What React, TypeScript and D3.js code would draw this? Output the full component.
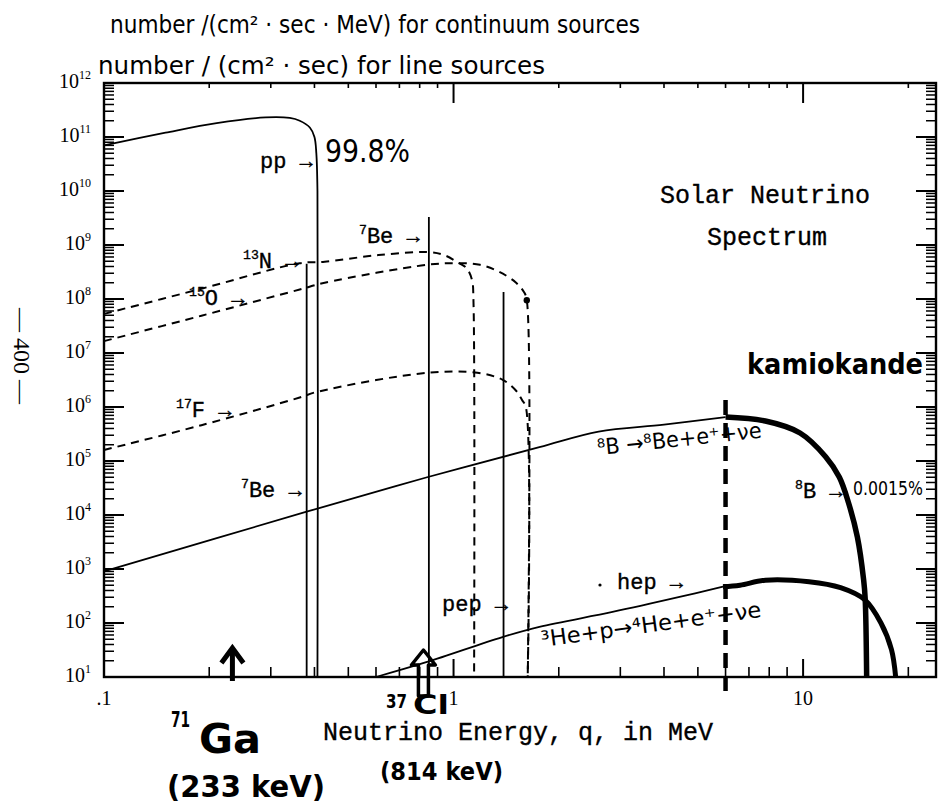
import React, { useEffect, useRef } from 'react';
import * as d3 from 'd3';

type Pt = [number, number];

// continuum sources: [energy (MeV), number / (cm^2 sec MeV)]
const ppSpectrum: Pt[] = [
  [0.1, 7.0e10], [0.15, 1.2e11], [0.21, 1.8e11], [0.29, 2.3e11], [0.34, 2.25e11],
  [0.363, 2.0e11], [0.388, 1.5e11], [0.4, 1.0e11], [0.405, 5e10], [0.408, 1e10], [0.408, 10],
];
const n13Spectrum: Pt[] = [
  [0.1, 5.3e7], [0.19, 1.55e8], [0.363, 4.6e8], [0.428, 4.9e8], [0.61, 6.5e8], [0.84, 7.4e8],
  [0.94, 6.5e8], [1.02, 4.9e8], [1.09, 3.7e8], [1.13, 2.2e8], [1.14, 9.5e7], [1.145, 10],
];
const o15Spectrum: Pt[] = [
  [0.1, 1.66e7], [0.19, 4.9e7], [0.363, 1.5e8], [0.428, 2.0e8], [0.84, 4.3e8], [1.02, 4.6e8],
  [1.19, 4.3e8], [1.35, 3.2e8], [1.51, 2.0e8], [1.59, 1.35e8], [1.62, 9.5e7], [1.63, 10],
];
const f17Spectrum: Pt[] = [
  [0.1, 1.6e5], [0.19, 4.6e5], [0.363, 1.5e6], [0.406, 1.9e6], [0.84, 4.3e6], [1.17, 4.3e6],
  [1.38, 3.2e6], [1.51, 2.0e6], [1.57, 1.35e6], [1.61, 1.0e6], [1.63, 10],
];
const b8Spectrum: Pt[] = [
  [0.1, 9e2], [0.38, 1.15e4], [0.84, 5e4], [1.76, 1.8e5], [2.6, 3.5e5], [4.0, 4.7e5], [6.0, 6.5e5],
];
const b8Detected: Pt[] = [
  [6.0, 6.5e5], [7.8, 5.5e5], [9.8, 3.3e5], [11.6, 1.2e5], [12.7, 5e4], [13.5, 1.65e4],
  [14.3, 3.9e3], [14.9, 630], [15.05, 290], [15.2, 10],
];
const hepSpectrum: Pt[] = [
  [0.6, 10], [0.84, 19], [1.38, 55], [1.76, 85], [2.85, 160], [4.4, 300], [5.9, 470],
];
const hepDetected: Pt[] = [
  [5.9, 470], [6.6, 500], [7.8, 620], [10.4, 580], [12.8, 450], [15.0, 270], [16.7, 100],
  [17.9, 32], [18.4, 10],
];

// line sources: number / (cm^2 sec)
const lineEnergies = [0.38, 0.85, 1.39];
const lineFluxes = [4.5e8, 3.3e9, 1.35e8];

// detector thresholds (MeV)
const kamiokandeThreshold = 6.0;
const galliumThreshold = 0.233;
const chlorineThreshold = 0.82;

const yExponents = [1, 2, 3, 4, 5, 6, 7, 8, 9, 10, 11, 12];
const xLabelValues = [0.1, 1, 10];
const xLabelTexts = ['.1', '1', '10'];

const W = 941;
const H = 806;
const M = { left: 104, right: 936, top: 83, bottom: 677 };

const SERIF = 'Liberation Serif, serif';
const MONO = 'Liberation Mono, DejaVu Sans Mono, monospace';
const HAND = 'DejaVu Sans, sans-serif';

type Part = [string, boolean];

export default function App() {
  const ref = useRef<SVGSVGElement>(null);

  useEffect(() => {
    const svg = d3.select(ref.current);
    svg.selectAll('*').remove();

    const x = d3.scaleLog().domain([0.1, 24]).range([M.left, M.right]);
    const y = d3.scaleLog().domain([10, 1e12]).range([M.bottom, M.top]);

    svg.append('rect').attr('width', W).attr('height', H).attr('fill', '#fff');

    const isMajor = (v: number) => Math.abs(Math.log10(v) - Math.round(Math.log10(v))) < 1e-9;

    // ticks on all four sides
    const ticks = svg.append('g').attr('stroke', '#000');
    const xt = x.ticks().filter(v => v > 0.1);
    ticks.selectAll('line.xb').data(xt).join('line')
      .attr('x1', d => x(d)).attr('x2', d => x(d))
      .attr('y1', M.bottom).attr('y2', d => M.bottom - (isMajor(d) ? 18 : 10))
      .attr('stroke-width', d => (isMajor(d) ? 2 : 1.6));
    ticks.selectAll('line.xt').data(xt).join('line')
      .attr('x1', d => x(d)).attr('x2', d => x(d))
      .attr('y1', M.top).attr('y2', d => M.top + (isMajor(d) ? 20 : 5))
      .attr('stroke-width', d => (isMajor(d) ? 2 : 1.6));

    const yt: number[] = [];
    yExponents.forEach(e => {
      for (let m = 1; m < 10; m++) {
        const v = m * Math.pow(10, e);
        if (v <= 1e12) yt.push(v);
      }
    });
    ticks.selectAll('line.yl').data(yt).join('line')
      .attr('x1', M.left).attr('x2', d => M.left + (isMajor(d) ? 20 : 10))
      .attr('y1', d => y(d)).attr('y2', d => y(d))
      .attr('stroke-width', d => (isMajor(d) ? 2 : 1.5));
    ticks.selectAll('line.yr').data(yt).join('line')
      .attr('x1', M.right).attr('x2', d => M.right - (isMajor(d) ? 20 : 10))
      .attr('y1', d => y(d)).attr('y2', d => y(d))
      .attr('stroke-width', d => (isMajor(d) ? 2 : 1.5));

    svg.append('rect')
      .attr('x', M.left).attr('y', M.top)
      .attr('width', M.right - M.left).attr('height', M.bottom - M.top)
      .attr('fill', 'none').attr('stroke', '#000').attr('stroke-width', 2.4);

    // tick labels
    const yl = svg.append('g').attr('font-family', SERIF).attr('font-size', 20);
    yExponents.forEach(e => {
      const t = yl.append('text').attr('x', 91).attr('y', y(Math.pow(10, e)) + 5).attr('text-anchor', 'end');
      t.append('tspan').text('10');
      t.append('tspan').attr('dy', -9).attr('font-size', 12).text(String(e));
    });
    svg.append('g').selectAll('text').data(xLabelValues).join('text')
      .attr('x', d => x(d)).attr('y', 705)
      .attr('text-anchor', 'middle').attr('font-family', SERIF).attr('font-size', 20)
      .text((d, i) => xLabelTexts[i]);

    // curves
    const line = d3.line<Pt>().x(d => x(d[0])).y(d => y(d[1])).curve(d3.curveCatmullRom.alpha(0.5));
    const curves = svg.append('g').attr('fill', 'none').attr('stroke', '#000').attr('stroke-linejoin', 'round');
    curves.append('path').attr('d', line(ppSpectrum)).attr('stroke-width', 1.8);
    curves.append('path').attr('d', line(b8Spectrum)).attr('stroke-width', 1.8);
    curves.append('path').attr('d', line(hepSpectrum)).attr('stroke-width', 1.8);
    curves.append('path').attr('d', line(b8Detected)).attr('stroke-width', 5.5);
    curves.append('path').attr('d', line(hepDetected)).attr('stroke-width', 5);
    [n13Spectrum, o15Spectrum, f17Spectrum].forEach(s => {
      curves.append('path').attr('d', line(s)).attr('stroke-width', 2).attr('stroke-dasharray', '8,6');
    });
    const o15End = o15Spectrum[o15Spectrum.length - 2];
    svg.append('circle').attr('cx', x(o15End[0])).attr('cy', y(o15End[1])).attr('r', 3.2);

    // line sources
    svg.append('g').selectAll('line').data(lineEnergies).join('line')
      .attr('x1', d => x(d)).attr('x2', d => x(d))
      .attr('y1', (d, i) => y(lineFluxes[i])).attr('y2', M.bottom)
      .attr('stroke', '#000').attr('stroke-width', 1.8);

    // Kamiokande threshold
    svg.append('line')
      .attr('x1', x(kamiokandeThreshold)).attr('x2', x(kamiokandeThreshold))
      .attr('y1', 400).attr('y2', 692)
      .attr('stroke', '#000').attr('stroke-width', 4.5).attr('stroke-dasharray', '15,8');

    // Ga threshold arrow
    const gx = x(galliumThreshold);
    svg.append('line').attr('x1', gx).attr('x2', gx).attr('y1', 649).attr('y2', 681)
      .attr('stroke', '#000').attr('stroke-width', 5);
    svg.append('path').attr('d', `M${gx - 11},${663} L${gx},${648} L${gx + 11},${663}`)
      .attr('fill', 'none').attr('stroke', '#000').attr('stroke-width', 5);

    // Cl threshold arrow
    const cx = x(chlorineThreshold);
    svg.append('path')
      .attr('d', `M${cx},650 L${cx + 12},665 L${cx + 5},665 L${cx + 5},696 L${cx - 5},696 L${cx - 5},665 L${cx - 12},665 Z`)
      .attr('fill', 'none').attr('stroke', '#000').attr('stroke-width', 3.5).attr('stroke-linejoin', 'round');

    // printed labels
    const addText = (xp: number, yp: number, parts: Part[], size: number, family: string) => {
      const t = svg.append('text').attr('x', xp).attr('y', yp).attr('font-family', family).attr('font-size', size)
        .attr('stroke', '#000').attr('stroke-width', 0.35);
      let sup = false;
      parts.forEach(([s, isSup]) => {
        const ts = t.append('tspan').text(s);
        if (isSup && !sup) ts.attr('dy', -size * 0.4);
        if (!isSup && sup) ts.attr('dy', size * 0.4);
        if (isSup) ts.attr('font-size', size * 0.6);
        sup = isSup;
      });
      return t;
    };
    addText(260, 168, [['pp →', false]], 22, MONO);
    addText(359, 243, [['7', true], ['Be →', false]], 22, MONO);
    addText(243, 268, [['13', true], ['N →', false]], 22, MONO);
    addText(189, 305, [['15', true], ['O →', false]], 22, MONO);
    addText(176, 417, [['17', true], ['F →', false]], 22, MONO);
    addText(241, 497, [['7', true], ['Be →', false]], 22, MONO);
    addText(442, 611, [['pep →', false]], 22, MONO);
    addText(617, 589, [['hep →', false]], 22, MONO);
    svg.append('circle').attr('cx', 600).attr('cy', 585).attr('r', 1.6);
    addText(795, 498, [['8', true], ['B →', false]], 22, MONO);
    addText(660, 203, [['Solar Neutrino', false]], 25, MONO);
    addText(767, 245, [['Spectrum', false]], 25, MONO).attr('text-anchor', 'middle');
    addText(323, 740, [['Neutrino Energy, q, in MeV', false]], 25, MONO);

    // page number
    svg.append('text')
      .attr('transform', 'translate(22,356) rotate(90)')
      .attr('x', 0).attr('y', 8).attr('text-anchor', 'middle')
      .attr('font-family', SERIF).attr('font-size', 24)
      .text('— 400 —');

    // handwritten notes
    const hand = (xp: number, yp: number, s: string, size: number, len: number, weight = 'normal', rot = 0) => {
      const t = svg.append('text').attr('x', xp).attr('y', yp)
        .attr('font-family', HAND).attr('font-size', size).attr('font-weight', weight)
        .attr('textLength', len).attr('lengthAdjust', 'spacingAndGlyphs')
        .text(s);
      if (rot) t.attr('transform', `rotate(${rot},${xp},${yp})`);
      return t;
    };
    hand(110, 33, 'number /(cm² · sec · MeV) for continuum sources', 24, 530);
    hand(98, 74, 'number / (cm² · sec) for line sources', 24, 447);
    hand(325, 162, '99.8%', 32, 85);
    hand(747, 374, 'kamiokande', 28, 176, 'bold');
    hand(853, 495, '0.0015%', 19, 70);
    hand(598, 455, '⁸B →⁸Be+e⁺+νe', 22, 165, 'normal', -6);
    hand(542, 647, '³He+p→⁴He+e⁺+νe', 22, 222, 'normal', -7.8);
    hand(171, 727, '71', 21, 19, 'bold');
    hand(199, 753, 'Ga', 40, 62, 'bold');
    hand(167, 797, '(233 keV)', 30, 158, 'bold');
    hand(386, 708, '37', 19, 21, 'bold');
    hand(413, 714, 'Cl', 27, 36, 'bold');
    hand(380, 780, '(814 keV)', 25, 123, 'bold');
  }, []);

  return (
    <svg
      ref={ref}
      width={W}
      height={H}
      style={{ position: 'absolute', left: 0, top: 0, display: 'block' }}
    />
  );
}
